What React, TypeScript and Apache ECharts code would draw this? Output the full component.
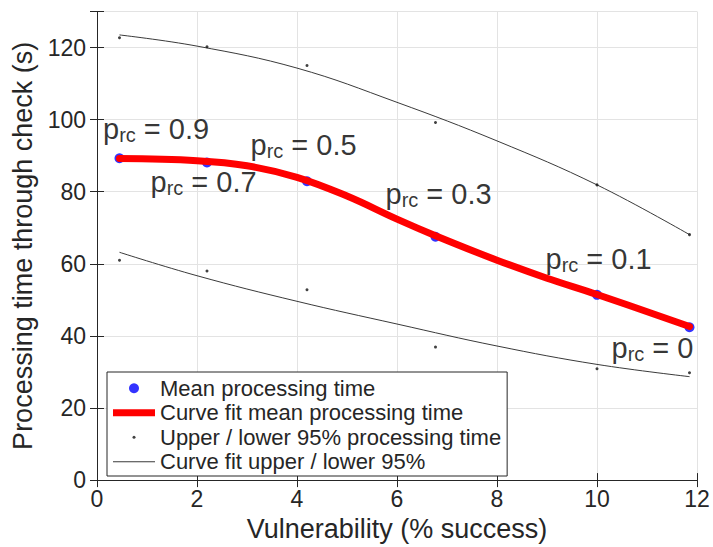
import React, { useEffect, useRef } from "react";
import * as echarts from "echarts";

// Observed points (vulnerability %, processing time s)
const pointX = [0.45, 2.2, 4.2, 6.77, 10, 11.85];
const meanY = [89.3, 88.1, 82.9, 67.5, 51.4, 42.4];
const upperY = [122.7, 120.2, 115.0, 99.2, 81.9, 68.1];
const lowerY = [61.0, 58.0, 52.8, 36.9, 30.9, 29.8];

// Curve fits
const fitMeanX = [0.45, 2, 3, 4, 5, 6, 6.77, 8, 9, 10, 11.85];
const fitMeanY = [89.2, 88.6, 87.2, 84.0, 78.8, 72.4, 67.8, 61.0, 56.0, 51.5, 42.6];
const fitUpperX = [0.45, 2, 4, 6, 8, 10, 11.85];
const fitUpperY = [123.5, 120.4, 114.3, 104.8, 94.1, 81.9, 68.1];
const fitLowerX = [0.45, 2, 4, 6, 8, 10, 11.85];
const fitLowerY = [63.2, 56.7, 49.6, 43.3, 37.2, 32.1, 28.7];

// p_rc annotations
const annLabels = ["0.9", "0.7", "0.5", "0.3", "0.1", "0"];
const annX = [0.12, 1.07, 3.07, 5.77, 8.97, 10.29];
const annY = [97.5, 82.6, 92.9, 79.5, 61.3, 36.7];

const xTicks = [0, 2, 4, 6, 8, 10, 12];
const yTicks = [0, 20, 40, 60, 80, 100, 120];

const FONT = "'Liberation Sans', Arial, Helvetica, sans-serif";
const TXT = "#262626";

const zip = (xs: number[], ys: number[]) => xs.map((x, i) => [x, ys[i]]);

export default function App() {
  const ref = useRef<HTMLDivElement>(null);
  useEffect(() => {
    if (!ref.current) return;
    const chart = echarts.init(ref.current, null, { renderer: "svg" });
    const secAxisCommon = {
      axisLine: { show: true, lineStyle: { color: TXT, width: 1 } },
      axisTick: { show: true, inside: true, length: 7, lineStyle: { color: TXT } },
      axisLabel: { show: false },
      splitLine: { show: false },
    };
    chart.setOption({
      animation: false,
      backgroundColor: "#ffffff",
      textStyle: { fontFamily: FONT },
      grid: { left: 97, right: 16, top: 11.5, bottom: 64, containLabel: false },
      xAxis: [
        {
          type: "value",
          min: 0,
          max: 12,
          interval: 2,
          name: "Vulnerability (% success)",
          nameLocation: "middle",
          nameGap: 33,
          nameTextStyle: { fontSize: 27, color: TXT, fontFamily: FONT },
          axisLine: { show: true, onZero: false, lineStyle: { color: TXT, width: 1 } },
          axisTick: { show: true, inside: true, length: 7, lineStyle: { color: TXT } },
          axisLabel: {
            fontSize: 23,
            color: TXT,
            margin: 7,
            fontFamily: FONT,
            formatter: (v: number) => (xTicks.includes(v) ? String(v) : ""),
          },
          splitLine: { show: true, lineStyle: { color: "#e3e3e3", width: 1 } },
        },
        { type: "value", position: "top", min: 0, max: 12, interval: 2, ...secAxisCommon },
      ],
      yAxis: [
        {
          type: "value",
          min: 0,
          max: 130,
          interval: 20,
          name: "Processing time through check (s)",
          nameLocation: "middle",
          nameGap: 60,
          nameTextStyle: { fontSize: 27, color: TXT, fontFamily: FONT },
          axisLine: { show: true, onZero: false, lineStyle: { color: TXT, width: 1 } },
          axisTick: { show: true, inside: true, length: 7, lineStyle: { color: TXT } },
          axisLabel: {
            fontSize: 23,
            color: TXT,
            margin: 11,
            fontFamily: FONT,
            formatter: (v: number) => (yTicks.includes(v) ? String(v) : ""),
          },
          splitLine: { show: true, lineStyle: { color: "#e3e3e3", width: 1 } },
        },
        { type: "value", position: "right", min: 0, max: 130, interval: 20, ...secAxisCommon },
      ],
      legend: {
        orient: "vertical",
        left: 107,
        top: 372,
        padding: [4, 6, 2, 6],
        itemGap: 0,
        itemWidth: 42,
        itemHeight: 10,
        borderColor: TXT,
        borderWidth: 1,
        backgroundColor: "#ffffff",
        borderRadius: 0,
        textStyle: { fontSize: 22, color: TXT, fontFamily: FONT, lineHeight: 24.5 },
        data: [
          { name: "Mean processing time", icon: "circle" },
          {
            name: "Curve fit mean processing time",
            icon: "path://M0,0M42,10M0,1.5L42,1.5L42,8.5L0,8.5Z",
          },
          {
            name: "Upper / lower 95% processing time",
            icon: "path://M0,0M10,10M3.5,5A1.5,1.5,0,1,0,6.5,5A1.5,1.5,0,1,0,3.5,5Z",
          },
          {
            name: "Curve fit upper / lower 95%",
            icon: "path://M0,0M42,10M0,4.5L42,4.5L42,5.5L0,5.5Z",
          },
        ],
      },
      series: [
        {
          name: "Mean processing time",
          type: "scatter",
          symbol: "circle",
          symbolSize: 10,
          itemStyle: { color: "#0000ff" },
          data: zip(pointX, meanY),
          z: 2,
        },
        {
          name: "Curve fit mean processing time",
          type: "line",
          smooth: 0.4,
          symbol: "none",
          showSymbol: false,
          lineStyle: { color: "#ff0000", width: 7, cap: "round" },
          itemStyle: { color: "#ff0000" },
          data: zip(fitMeanX, fitMeanY),
          z: 3,
        },
        {
          name: "Upper / lower 95% processing time",
          type: "scatter",
          symbol: "circle",
          symbolSize: 3,
          itemStyle: { color: "#111111" },
          data: [...zip(pointX, upperY), ...zip(pointX, lowerY)],
          z: 2,
        },
        {
          name: "Curve fit upper / lower 95%",
          type: "line",
          smooth: 0.4,
          symbol: "none",
          showSymbol: false,
          lineStyle: { color: "#3a3a3a", width: 1 },
          itemStyle: { color: "#3a3a3a" },
          data: zip(fitUpperX, fitUpperY),
          z: 2,
        },
        {
          name: "Curve fit upper / lower 95%",
          type: "line",
          smooth: 0.4,
          symbol: "none",
          showSymbol: false,
          lineStyle: { color: "#3a3a3a", width: 1 },
          itemStyle: { color: "#3a3a3a" },
          data: zip(fitLowerX, fitLowerY),
          z: 2,
        },
        {
          name: "annotations",
          type: "scatter",
          symbolSize: 0,
          silent: true,
          z: 5,
          data: annLabels.map((t, i) => ({ value: [annX[i], annY[i]], lbl: t })),
          label: {
            show: true,
            position: [0, 0],
            align: "left",
            verticalAlign: "middle",
            formatter: (p: any) => `{p|p}{s|rc}{m| = ${annLabels[p.dataIndex]}}`,
            rich: {
              p: { fontSize: 29, lineHeight: 32, color: "#000", fontFamily: FONT },
              s: { fontSize: 20, lineHeight: 11, verticalAlign: "bottom", color: "#000", fontFamily: FONT },
              m: { fontSize: 29, lineHeight: 32, color: "#000", fontFamily: FONT },
            },
          },
        },
      ],
    });
    return () => chart.dispose();
  }, []);
  return <div ref={ref} style={{ width: 713, height: 547, position: "absolute", left: 0, top: 0 }} />;
}
